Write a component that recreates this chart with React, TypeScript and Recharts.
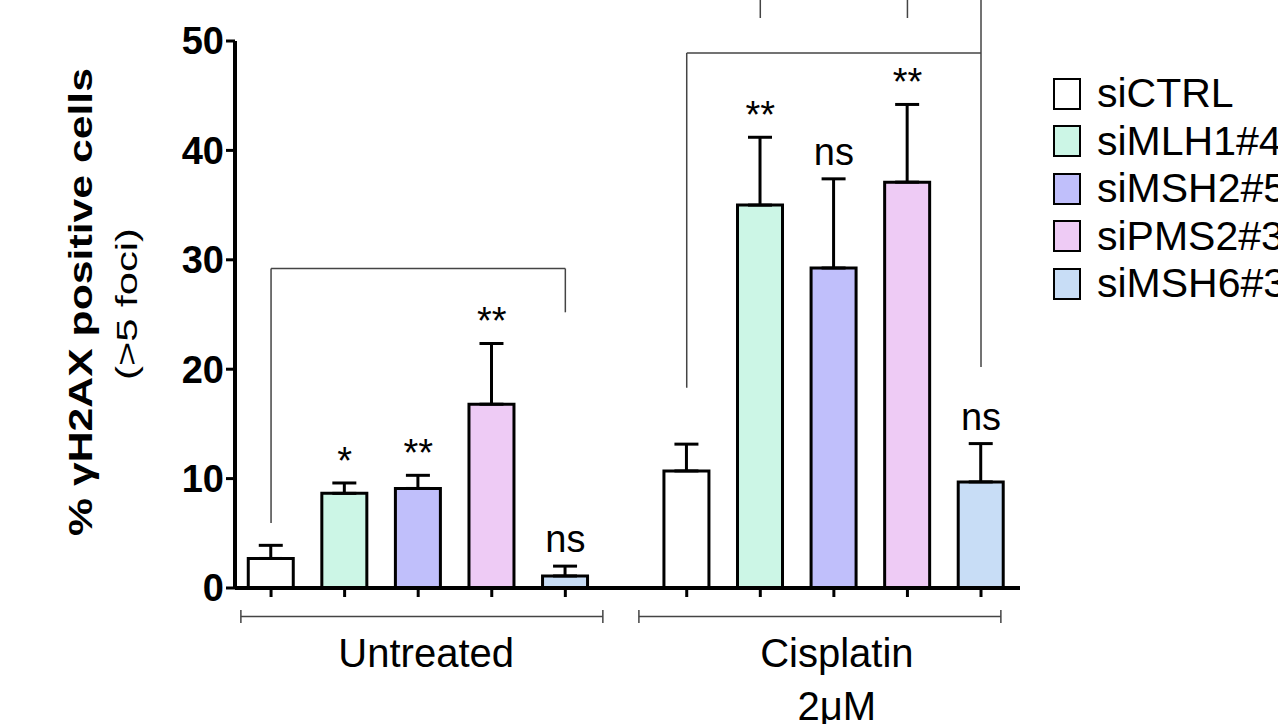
import {
  ComposedChart, Bar, Line, Cell, XAxis, YAxis, ErrorBar, LabelList,
  ReferenceLine, Legend, Label,
} from "recharts";

const FONT = "'Liberation Sans', Arial, Helvetica, sans-serif";

const SERIES = ["siCTRL", "siMLH1#4", "siMSH2#5", "siPMS2#3", "siMSH6#3"];
const COLORS = ["#ffffff", "#ccf6e6", "#c0bffb", "#eecbf5", "#c8ddf6"];
const GROUP_LABELS = [["Untreated"], ["Cisplatin", "2\u03bcM"]];

const UNTREATED_MEAN = [2.7, 8.65, 9.1, 16.8, 1.1];
const UNTREATED_ERR = [1.2, 0.95, 1.2, 5.55, 0.9];
const UNTREATED_SIG = ["", "*", "**", "**", "ns"];

const CISPLATIN_MEAN = [10.7, 35.0, 29.25, 37.1, 9.7];
const CISPLATIN_ERR = [2.45, 6.2, 8.15, 7.1, 3.5];
const CISPLATIN_SIG = ["", "**", "ns", "**", "ns"];

const Y_TICKS = [0, 10, 20, 30, 40, 50];

// comparison brackets: bar index from/to, heights in y units
const BRACKETS = [
  { from: 0, to: 4, top: 29.2, left: 5.95, right: 25.2 },
  { from: 5, to: 9, top: 48.9, left: 18.3, right: 20.2 },
];
// legs of brackets from a panel above, cut off at the top edge
const STUBS = [
  { bar: 6, from: 52.1 },
  { bar: 8, from: 52.1 },
  { bar: 9, from: 48.9 },
];
// group brackets under the axis, in x units (bar slots)
const GROUP_SPANS = [
  [-0.41, 4.51],
  [5.0, 9.92],
];

const GROUP_GAP = 0.65;
const X_DOMAIN = [-0.49, 10.18];

const MEANS = [UNTREATED_MEAN, CISPLATIN_MEAN];
const ERRS = [UNTREATED_ERR, CISPLATIN_ERR];
const SIGS = [UNTREATED_SIG, CISPLATIN_SIG];

const posOf = (g: number, i: number) => g * (SERIES.length + GROUP_GAP) + i;

const rows = MEANS.flatMap((m, g) =>
  m.map((v, i) => ({
    pos: posOf(g, i),
    mean: v,
    err: [0, ERRS[g][i]],
    top: v + ERRS[g][i],
    sig: SIGS[g][i],
    fill: COLORS[i],
  }))
);

const groupCenters = GROUP_LABELS.map((_, g) => posOf(g, (SERIES.length - 1) / 2));

function SigLabel(props: any) {
  const { x, y, value } = props;
  if (!value) return null;
  const gap = value === "ns" ? 14 : 9;
  return (
    <text x={x} y={y - gap} textAnchor="middle" fontFamily={FONT} fontSize={38} fill="#000">
      {value}
    </text>
  );
}

function GroupTick(props: any) {
  const { x, y, index } = props;
  const lines = GROUP_LABELS[index] ?? [];
  return (
    <g>
      {lines.map((t, k) => (
        <text key={k} x={x + (index === 0 ? 8 : 3)} y={y + 59 + k * 53} textAnchor="middle" fontFamily={FONT} fontSize={40} fill="#000">
          {t}
        </text>
      ))}
    </g>
  );
}

function YTitle() {
  return (
    <g fontFamily={FONT} fill="#000">
      <text x={92} y={302} transform="rotate(-90, 92, 302)" textAnchor="middle"
        fontWeight="bold" fontSize={33} textLength={468} lengthAdjust="spacingAndGlyphs">
        % γH2AX positive cells
      </text>
      <text x={137} y={304} transform="rotate(-90, 137, 304)" textAnchor="middle"
        fontSize={29} textLength={152} lengthAdjust="spacingAndGlyphs">
        (&gt;5 foci)
      </text>
    </g>
  );
}

function LegendBox() {
  return (
    <div style={{ fontFamily: FONT, fontSize: 41, color: "#000" }}>
      {SERIES.map((s, i) => (
        <div key={s} style={{ display: "flex", alignItems: "center", height: 47.5 }}>
          <span style={{
            display: "inline-block", width: 24, height: 28, border: "2.5px solid #000",
            background: COLORS[i], marginRight: 16, flexShrink: 0,
          }} />
          <span style={{ whiteSpace: "nowrap" }}>{s}</span>
        </div>
      ))}
    </div>
  );
}

const lineStyle = { stroke: "#444", strokeWidth: 1.5 };

export default function App() {
  const bracketLines: any[] = [];
  BRACKETS.forEach((b, k) => {
    const x1 = rows[b.from].pos;
    const x2 = rows[b.to].pos;
    bracketLines.push(
      <ReferenceLine key={`bl${k}`} segment={[{ x: x1, y: b.left }, { x: x1, y: b.top }]} ifOverflow="visible" {...lineStyle} />,
      <ReferenceLine key={`bt${k}`} segment={[{ x: x1, y: b.top }, { x: x2, y: b.top }]} ifOverflow="visible" {...lineStyle} />,
      <ReferenceLine key={`br${k}`} segment={[{ x: x2, y: b.top }, { x: x2, y: b.right }]} ifOverflow="visible" {...lineStyle} />
    );
  });
  STUBS.forEach((s, k) => {
    const x = rows[s.bar].pos;
    bracketLines.push(
      <ReferenceLine key={`s${k}`} segment={[{ x, y: s.from }, { x, y: 56 }]} ifOverflow="visible" {...lineStyle} />
    );
  });
  GROUP_SPANS.forEach(([a, b], g) => {
    bracketLines.push(
      <ReferenceLine key={`g${g}`} segment={[{ x: a, y: -2.6 }, { x: b, y: -2.6 }]} ifOverflow="visible" {...lineStyle} />,
      <ReferenceLine key={`ga${g}`} segment={[{ x: a, y: -2.0 }, { x: a, y: -3.2 }]} ifOverflow="visible" {...lineStyle} />,
      <ReferenceLine key={`gb${g}`} segment={[{ x: b, y: -2.0 }, { x: b, y: -3.2 }]} ifOverflow="visible" {...lineStyle} />
    );
  });

  return (
    <div style={{ position: "absolute", left: 0, top: 0, width: 1278, height: 724, overflow: "hidden", background: "#fff" }}>
      <ComposedChart width={1320} height={724} data={rows} margin={{ top: 41, right: 300, bottom: 0, left: 0 }}>
        <XAxis
          dataKey="pos"
          type="number"
          domain={X_DOMAIN}
          ticks={rows.map((r) => r.pos)}
          interval={0}
          height={20}
          tickSize={9}
          tickFormatter={() => ""}
          axisLine={{ stroke: "#000", strokeWidth: 4 }}
          tickLine={{ stroke: "#000", strokeWidth: 3 }}
          allowDataOverflow
        />
        <XAxis
          xAxisId="groups"
          dataKey="pos"
          type="number"
          domain={X_DOMAIN}
          ticks={groupCenters}
          interval={0}
          height={116}
          tickSize={0}
          tickMargin={0}
          axisLine={false}
          tickLine={false}
          tick={<GroupTick />}
          allowDataOverflow
        />
        <YAxis
          type="number"
          domain={[0, 50]}
          ticks={Y_TICKS}
          interval={0}
          width={235}
          tickSize={9}
          axisLine={{ stroke: "#000", strokeWidth: 4 }}
          tickLine={{ stroke: "#000", strokeWidth: 3 }}
          tick={{ fontFamily: FONT, fontSize: 38, fontWeight: "bold", fill: "#000" }}
          allowDataOverflow
        >
          <Label content={<YTitle />} />
        </YAxis>
        {bracketLines}
        <Bar dataKey="mean" barSize={45} stroke="#000" strokeWidth={3} isAnimationActive={false}>
          {rows.map((r, i) => (
            <Cell key={i} fill={r.fill} />
          ))}
          <ErrorBar dataKey="err" direction="y" width={12} stroke="#000" strokeWidth={3} isAnimationActive={false} />
        </Bar>
        <Line dataKey="top" stroke="none" dot={false} activeDot={false} legendType="none" isAnimationActive={false}>
          <LabelList dataKey="sig" content={<SigLabel />} />
        </Line>
        <Legend
          layout="horizontal"
          align="center"
          verticalAlign="middle"
          content={<LegendBox />}
          wrapperStyle={{ left: 1053, top: 70, width: 300, height: 240 }}
        />
      </ComposedChart>
    </div>
  );
}
